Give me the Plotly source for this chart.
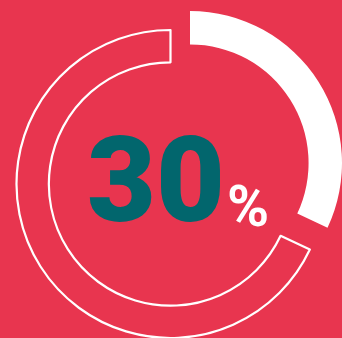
import plotly.graph_objects as go

# Data
labels = ["Filled", "Remaining"]
shares = [32, 68]          # arc spans as drawn (~115 deg filled)
headline_value = "30"
headline_unit = "%"

BG = "#E8354F"
TEAL = "#02666D"
WHITE = "#FFFFFF"
W, H = 342, 338

fig = go.Figure()

# Outline ring (remaining part)
fig.add_trace(go.Pie(
    labels=labels, values=shares, sort=False, direction="clockwise", rotation=0,
    hole=0.79, textinfo="none", hoverinfo="skip", showlegend=False,
    marker=dict(colors=["rgba(0,0,0,0)", "rgba(0,0,0,0)"],
                line=dict(color=[WHITE, WHITE], width=[0, 2.2])),
    domain=dict(x=[16.5 / W, 324.5 / W], y=[0, 308 / H]),
))

# Solid filled arc (pulled out up-right)
fig.add_trace(go.Pie(
    labels=labels, values=shares, sort=False, direction="clockwise", rotation=0,
    hole=0.78, textinfo="none", hoverinfo="skip", showlegend=False,
    marker=dict(colors=[WHITE, "rgba(0,0,0,0)"],
                line=dict(color=[WHITE, WHITE], width=[0, 0])),
    domain=dict(x=[38 / W, 342 / W], y=[(H - 163 - 152) / H, (H - 163 + 152) / H]),
))

fig.add_annotation(text=headline_value, x=156 / W, y=1 - 180.5 / H, xref="paper", yref="paper",
                   showarrow=False, xanchor="center", yanchor="middle",
                   font=dict(family="Roboto", size=119, color=TEAL, weight=900))
fig.add_annotation(text=headline_unit, x=248 / W, y=1 - 206 / H, xref="paper", yref="paper",
                   showarrow=False, xanchor="center", yanchor="middle",
                   font=dict(family="Roboto", size=57, color=WHITE, weight=700))

fig.update_layout(
    width=W, height=H, margin=dict(l=0, r=0, t=0, b=0),
    paper_bgcolor=BG, plot_bgcolor=BG,
)

fig.write_html("out.html")
